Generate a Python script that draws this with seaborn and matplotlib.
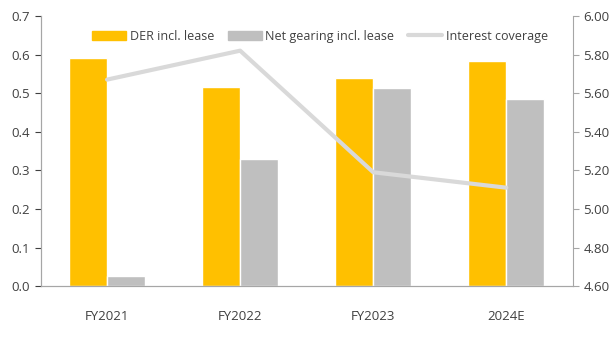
import numpy as np
import pandas as pd
import matplotlib
matplotlib.use("Agg")
import matplotlib.pyplot as plt
from matplotlib.lines import Line2D
from matplotlib.patches import Patch
import seaborn as sns

years = ["FY2021", "FY2022", "FY2023", "2024E"]
der = [0.59, 0.515, 0.54, 0.583]
net_gearing = [0.025, 0.33, 0.513, 0.485]
interest_cov = [5.67, 5.82, 5.19, 5.11]

YELLOW = "#FFC000"
GREY = "#BFBFBF"
LINE = "#D9D9D9"
SPINE = "#A6A6A6"

sns.set_style("white")
plt.rcParams["font.family"] = ["Open Sans", "DejaVu Sans"]

df = pd.DataFrame({
    "year": years * 2,
    "value": der + net_gearing,
    "series": ["DER incl. lease"] * 4 + ["Net gearing incl. lease"] * 4,
})

fig, ax = plt.subplots(figsize=(6.14, 3.39), dpi=100)
fig.subplots_adjust(left=0.066, right=0.933, bottom=0.156, top=0.953)

sns.barplot(data=df, x="year", y="value", hue="series",
            palette=[YELLOW, GREY], width=0.57, gap=0, ax=ax,
            saturation=1, legend=False)
ax.set_xlim(-0.5, 3.5)
ax.set_ylim(0, 0.7)
ax.set_yticks(np.arange(0, 0.71, 0.1))
ax.set_yticklabels([f"{v:.1f}" for v in np.arange(0, 0.71, 0.1)])
ax.set_xlabel("")
ax.set_ylabel("")
ax.set_xticks(range(len(years)))
ax.set_xticklabels(years)
ax.set_xticks(np.arange(-0.5, 3.6, 1), minor=True)
ax.tick_params(axis="x", which="major", length=0, pad=17)
ax.tick_params(axis="x", which="minor", length=5, color=SPINE, direction="out")
ax.tick_params(axis="y", length=4, color=SPINE, direction="out", left=True)
ax.tick_params(labelsize=9.5, colors="#404040")

ax2 = ax.twinx()
sns.lineplot(x=np.arange(len(years)), y=interest_cov, color=LINE,
             linewidth=3, ax=ax2)
ax2.set_ylim(4.6, 6.0)
ax2.set_yticks(np.arange(4.6, 6.01, 0.2))
ax2.set_yticklabels([f"{v:.2f}" for v in np.arange(4.6, 6.01, 0.2)])
ax2.tick_params(axis="y", length=4, color=SPINE, direction="out", right=True,
                labelsize=9.5, colors="#404040")

for a in (ax, ax2):
    a.spines["top"].set_visible(False)
    for s in ("left", "right", "bottom"):
        a.spines[s].set_color(SPINE)
ax.spines["right"].set_visible(False)

handles = [Patch(color=YELLOW), Patch(color=GREY),
           Line2D([0], [0], color=LINE, linewidth=3)]
labels = ["DER incl. lease", "Net gearing incl. lease", "Interest coverage"]
ax2.legend(handles, labels, loc="upper center", bbox_to_anchor=(0.525, 0.99),
           ncol=3, frameon=False, fontsize=9, handlelength=2.7,
           handleheight=0.8, columnspacing=1.1, handletextpad=0.3,
           labelcolor="#404040")

plt.savefig("out.png", dpi=100)
plt.close()
